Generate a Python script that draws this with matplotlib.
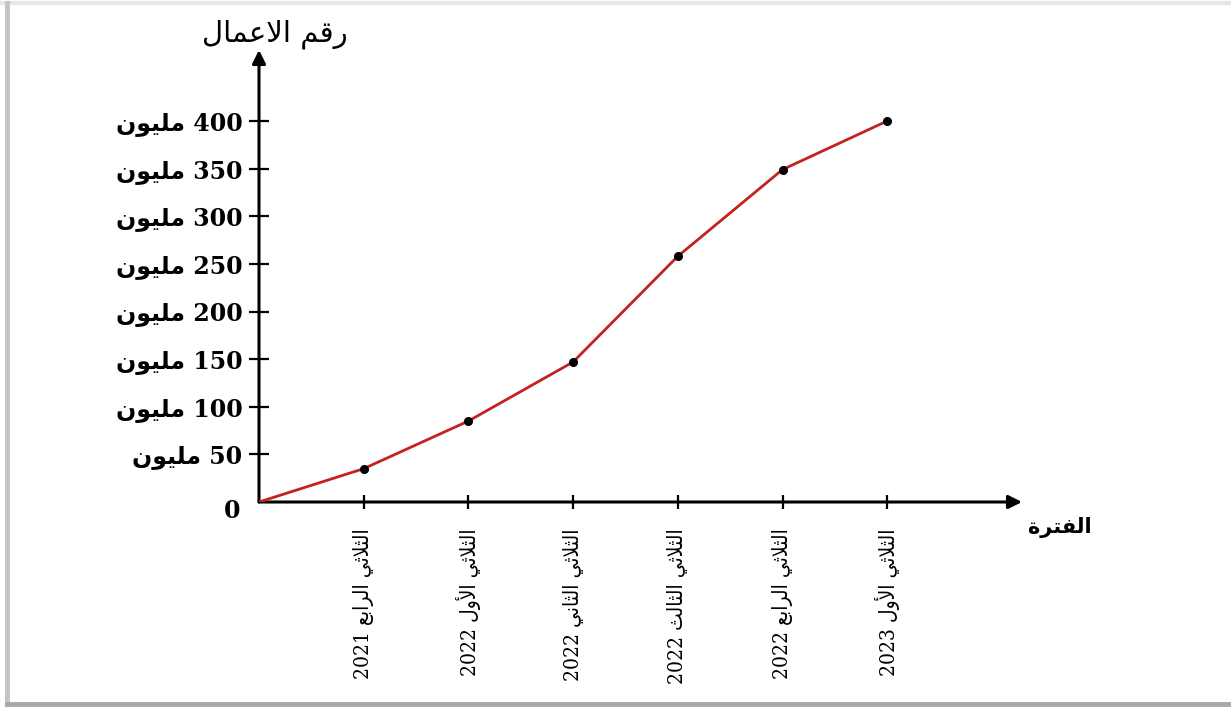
import re
import matplotlib
matplotlib.use("Agg")
import matplotlib.pyplot as plt
from matplotlib.lines import Line2D

# ---------------------------
# data: turnover per quarter (millions)
# ---------------------------
periods = ["الثلاثي الرابع 2021", "الثلاثي الأول 2022", "الثلاثي الثاني 2022",
           "الثلاثي الثالث 2022", "الثلاثي الرابع 2022", "الثلاثي الأول 2023"]
turnover = [35, 85, 147, 258, 349, 400]
y_ticks = [50, 100, 150, 200, 250, 300, 350, 400]
unit = "مليون"
y_title = "رقم الاعمال"
x_title = "الفترة"

# ---------------------------
# minimal arabic shaping (matplotlib draws glyphs left to right, unjoined)
# ---------------------------
DUAL = {"ب": 0xFE8F, "ت": 0xFE95, "ث": 0xFE99, "ع": 0xFEC9, "ف": 0xFED1,
        "ق": 0xFED5, "ل": 0xFEDD, "م": 0xFEE1, "ن": 0xFEE5, "ي": 0xFEF1}
RIGHT = {"ا": 0xFE8D, "أ": 0xFE83, "ة": 0xFE93, "ر": 0xFEAD, "و": 0xFEED}
LAM_ALEF = {"ا": 0xFEFB, "أ": 0xFEF7}


def shape(text):
    out = []
    prev_joins = False
    i = 0
    while i < len(text):
        c = text[i]
        nxt = text[i + 1] if i + 1 < len(text) else ""
        if c == "ل" and nxt in LAM_ALEF:
            out.append(chr(LAM_ALEF[nxt] + (1 if prev_joins else 0)))
            prev_joins = False
            i += 2
            continue
        next_joins = nxt in DUAL or nxt in RIGHT
        if c in DUAL:
            if prev_joins and next_joins:
                form = 3
            elif prev_joins:
                form = 1
            elif next_joins:
                form = 2
            else:
                form = 0
            out.append(chr(DUAL[c] + form))
            prev_joins = next_joins
        elif c in RIGHT:
            out.append(chr(RIGHT[c] + (1 if prev_joins else 0)))
            prev_joins = False
        else:
            out.append(c)
            prev_joins = False
        i += 1
    return "".join(out)


def rtl(text):
    # reverse into visual order but keep numbers readable
    parts = re.findall(r"\d+|\D", shape(text))
    return "".join(reversed(parts))


SERIF_AR = ["DejaVu Serif", "DejaVu Sans"]

# ---------------------------
# figure / axes
# ---------------------------
W, H = 1231, 707
fig = plt.figure(figsize=(W / 100, H / 100), dpi=100)
fig.patch.set_facecolor("white")

x0, y0, x1, y1 = 259, 502, 1022, 50
ax = fig.add_axes([x0 / W, (H - y0) / H, (x1 - x0) / W, (y0 - y1) / H])
ax.set_xlim(0, (x1 - x0) / 104.7)
ax.set_ylim(0, (y0 - y1) / 0.9525)
ax.patch.set_alpha(0)
for s in ax.spines.values():
    s.set_visible(False)

# axis arrows
arrow = dict(arrowstyle="-|>", lw=2.2, color="black", mutation_scale=20,
             shrinkA=0, shrinkB=0)
ax.annotate("", xy=(1, 0), xytext=(0, 0), xycoords="axes fraction",
            arrowprops=arrow)
ax.annotate("", xy=(0, 1), xytext=(0, 0), xycoords="axes fraction",
            arrowprops=arrow)

# the curve
xs = list(range(len(periods) + 1))
ys = [0] + turnover
ax.plot(xs, ys, color="#c42121", lw=2.0, marker="o", ms=5.5,
        mfc="black", mec="black", markevery=list(range(1, len(xs))),
        zorder=3)

# ticks
ax.set_yticks(y_ticks)
ax.set_yticklabels([rtl(f"{v} {unit}") for v in y_ticks],
                   family=SERIF_AR, fontweight="bold", fontsize=17)
ax.set_xticks(xs[1:])
ax.set_xticklabels([rtl(p) for p in periods], rotation=90, family=SERIF_AR,
                   fontstretch="condensed", fontsize=15)
ax.tick_params(axis="y", direction="inout", length=14, width=1.6, pad=5)
ax.tick_params(axis="x", direction="inout", length=10, width=1.6, pad=14)

# origin and axis titles
ax.annotate("0", xy=(0, 0), xytext=(-27, -9), textcoords="offset pixels",
            ha="center", va="center", family="DejaVu Serif",
            fontweight="bold", fontsize=17)
ax.annotate(rtl(y_title), xy=(0, 1), xycoords="axes fraction",
            xytext=(16, 16), textcoords="offset pixels", ha="center",
            va="center", family="DejaVu Sans", fontsize=21,
            annotation_clip=False)
ax.annotate(rtl(x_title), xy=(1, 0), xycoords="axes fraction",
            xytext=(38, -25), textcoords="offset pixels", ha="center",
            va="center", family="DejaVu Sans", fontweight="bold",
            fontsize=15, annotation_clip=False)

# frame with a soft shadow on the left and bottom
fig.add_artist(Line2D([0, 1], [1 - 3 / H, 1 - 3 / H], transform=fig.transFigure,
                      color="#e6e6e6", lw=3))
fig.add_artist(Line2D([7 / W, 7 / W], [4 / H, 1 - 3 / H],
                      transform=fig.transFigure, color="#c4c4c4", lw=3.5))
fig.add_artist(Line2D([7 / W, 1], [3 / H, 3 / H], transform=fig.transFigure,
                      color="#a8a8a8", lw=3.5))

fig.savefig("out.png", dpi=100, facecolor="white")
